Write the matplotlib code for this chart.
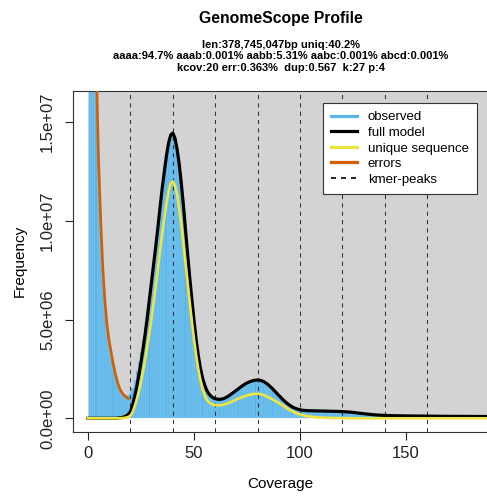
import numpy as np
import matplotlib
matplotlib.use('Agg')
import matplotlib.pyplot as plt
import matplotlib.patches as patches
from matplotlib.lines import Line2D

plt.rcParams['font.family'] = ['Liberation Sans', 'DejaVu Sans']

# DATA (frequencies in millions of k-mers)
# ------------------------------------------

title = 'GenomeScope Profile'
subtitle = ['len:378,745,047bp uniq:40.2%',
            'aaaa:94.7% aaab:0.001% aabb:5.31% aabc:0.001% abcd:0.001%',
            'kcov:20 err:0.363%  dup:0.567  k:27 p:4']

# observed histogram, coverage 1..190
hist_cov = list(range(1, 191))
observed = [150, 55, 28, 18, 13.3, 10.2, 7.8, 6.1, 4.9, 4.0,
            3.35, 2.75, 2.25, 1.85, 1.55, 1.35, 1.25, 1.2, 1.2, 1.3,
            1.55, 1.95, 2.4, 2.85, 3.35, 3.95, 4.6, 5.4, 6.2, 7.05,
            7.9, 8.8, 9.7, 10.7, 11.6, 12.45, 13.25, 13.9, 14.3, 14.4,
            14.15, 13.6, 12.85, 11.85, 10.75, 9.5, 8.25, 7.05, 5.95, 4.9,
            3.95, 3.15, 2.5, 2.0, 1.65, 1.38, 1.2, 1.08, 1.0, 0.95,
            0.93, 0.92, 0.93, 0.96, 1.01, 1.07, 1.14, 1.22, 1.3, 1.38,
            1.46, 1.54, 1.62, 1.69, 1.75, 1.8, 1.84, 1.87, 1.89, 1.9,
            1.89, 1.86, 1.81, 1.74, 1.66, 1.56, 1.46, 1.35, 1.24, 1.13,
            1.02, 0.92, 0.82, 0.73, 0.65, 0.58, 0.53, 0.49, 0.45, 0.42,
            0.40, 0.39, 0.38, 0.375, 0.37, 0.37, 0.365, 0.365, 0.36, 0.36,
            0.355, 0.355, 0.35, 0.35, 0.345, 0.345, 0.34, 0.335, 0.33, 0.325,
            0.315, 0.31, 0.30, 0.29, 0.28, 0.27, 0.255, 0.245, 0.23, 0.22,
            0.21, 0.20, 0.19, 0.18, 0.17, 0.16, 0.155, 0.15, 0.145, 0.14,
            0.138, 0.135, 0.133, 0.13, 0.128, 0.126, 0.124, 0.122, 0.12, 0.118,
            0.117, 0.116, 0.115, 0.114, 0.113, 0.112, 0.111, 0.11, 0.109, 0.108,
            0.107, 0.106, 0.105, 0.104, 0.103, 0.102, 0.101, 0.1, 0.099, 0.098,
            0.097, 0.096, 0.095, 0.094, 0.093, 0.092, 0.091, 0.09, 0.09, 0.089,
            0.088, 0.088, 0.087, 0.086, 0.086, 0.085, 0.085, 0.084, 0.084, 0.083]

# model curves: every coverage 0..103, then every 4th up to 188
model_cov = list(range(0, 104)) + list(range(104, 189, 4))
full_model = [0, 0, 0, 0, 0, 0, 0, 0, 0, 0,
              0, 0, 0, 0, 0.01, 0.02, 0.04, 0.07, 0.12, 0.2,
              0.33, 0.65, 1.1, 1.6, 2.2, 2.85, 3.55, 4.3, 5.15, 6.05,
              6.95, 7.85, 8.75, 9.7, 10.7, 11.65, 12.5, 13.3, 13.95, 14.35,
              14.45, 14.2, 13.65, 12.9, 11.9, 10.8, 9.55, 8.3, 7.1, 6.0,
              4.95, 4.0, 3.2, 2.55, 2.05, 1.7, 1.42, 1.24, 1.12, 1.04,
              0.99, 0.97, 0.96, 0.97, 1.0, 1.05, 1.11, 1.18, 1.26, 1.34,
              1.42, 1.5, 1.58, 1.66, 1.73, 1.79, 1.84, 1.88, 1.91, 1.93,
              1.94, 1.93, 1.9, 1.85, 1.78, 1.7, 1.6, 1.5, 1.39, 1.27,
              1.16, 1.05, 0.94, 0.84, 0.75, 0.67, 0.6, 0.54, 0.5, 0.46,
              0.43, 0.41, 0.4, 0.39,
              0.385, 0.375, 0.365, 0.355, 0.34, 0.31, 0.26, 0.21, 0.17, 0.145,
              0.132, 0.124, 0.118, 0.113, 0.11, 0.105, 0.1, 0.098, 0.096, 0.094,
              0.092, 0.09]
unique_seq = [0, 0, 0, 0, 0, 0, 0, 0, 0, 0,
              0, 0, 0, 0, 0, 0, 0.01, 0.02, 0.04, 0.07,
              0.13, 0.3, 0.6, 0.95, 1.35, 1.85, 2.4, 3.0, 3.65, 4.35,
              5.1, 5.9, 6.75, 7.6, 8.5, 9.35, 10.15, 10.9, 11.5, 11.9,
              12.0, 11.8, 11.35, 10.65, 9.8, 8.85, 7.85, 6.85, 5.85, 4.9,
              4.0, 3.2, 2.5, 1.95, 1.5, 1.17, 0.95, 0.82, 0.74, 0.69,
              0.67, 0.66, 0.66, 0.67, 0.69, 0.72, 0.76, 0.8, 0.85, 0.9,
              0.95, 1.0, 1.04, 1.08, 1.12, 1.16, 1.19, 1.21, 1.23, 1.24,
              1.24, 1.23, 1.21, 1.17, 1.12, 1.07, 1.02, 0.96, 0.9, 0.84,
              0.78, 0.71, 0.64, 0.57, 0.5, 0.43, 0.37, 0.32, 0.27, 0.23,
              0.2, 0.17, 0.14, 0.12,
              0.1, 0.05, 0.03, 0.015, 0.008, 0.004, 0.002, 0, 0, 0,
              0, 0, 0, 0, 0, 0, 0, 0, 0, 0,
              0, 0]

# error k-mers, coverage 1..19
error_cov = list(range(1, 20))
errors = [120, 50, 26, 17.5, 13, 10, 7.6, 5.9, 4.7, 3.9,
          3.3, 2.7, 2.2, 1.8, 1.5, 1.3, 1.17, 1.07, 1.0]

kmer_peaks = [20, 40, 60, 80, 100, 120, 140, 160]

x_ticks = [0, 50, 100, 150]
y_ticks = [0, 5e6, 1e7, 1.5e7]
y_ticklabels = ['0.0e+00', '5.0e+06', '1.0e+07', '1.5e+07']

COLOR_HIST = '#56B4E9'
COLOR_MODEL = 'black'
COLOR_UNIQUE = '#F0E442'
COLOR_ERRORS = '#D55E00'
COLOR_BG = '#D3D3D3'

# PLOT
# ------------------------------------------

W, H = 487, 496
fig = plt.figure(figsize=(W / 100, H / 100), dpi=100)
left, right, top, bottom = 72.7, 487, 90.7, 431.7
ax = fig.add_axes([left / W, 1 - bottom / H, (right - left) / W, (bottom - top) / H])

scale = 1e6
ax.add_patch(patches.Rectangle((0, 0), 1000, 1e9, color=COLOR_BG, lw=0, zorder=0))

ax.bar(hist_cov, np.array(observed) * scale, width=1.0, color=COLOR_HIST,
       edgecolor='#a6d8f3', linewidth=0.25, zorder=1)

for p in kmer_peaks:
    ax.axvline(p, color='#333333', lw=0.75, dashes=(4, 4), zorder=2)

ax.plot(model_cov, np.array(full_model) * scale, color=COLOR_MODEL, lw=2.3, zorder=3)
ax.plot(model_cov, np.array(unique_seq) * scale, color=COLOR_UNIQUE, lw=1.9, zorder=4)
ax.plot(error_cov, np.array(errors) * scale, color=COLOR_ERRORS, lw=1.9, zorder=4)

ax.set_xlim(-7.22, 188.2)
ax.set_ylim(-6.79e5, 1.6596e7)

ax.set_xticks(x_ticks)
ax.set_yticks(y_ticks)
ax.set_yticklabels(y_ticklabels, rotation=90, va='center')
ax.tick_params(axis='both', direction='out', length=5.6, width=0.8,
               labelsize=12, colors='#222222')
ax.tick_params(axis='x', pad=5)
ax.tick_params(axis='y', pad=7)
ax.spines['right'].set_visible(False)
for s in ['left', 'top', 'bottom']:
    ax.spines[s].set_linewidth(0.8)
    ax.spines[s].set_color('#333333')

fig.text(280 / W, 1 - 484 / H, 'Coverage', ha='center', va='center', fontsize=11)
fig.text(20 / W, 1 - 261 / H, 'Frequency', ha='center', va='center',
         rotation=90, fontsize=11)

fig.text(281 / W, 1 - 18.3 / H, title, ha='center', va='center',
         fontsize=11.3, fontweight='bold')
for i, line in enumerate(subtitle):
    fig.text(281 / W, 1 - (45 + 11.4 * i) / H, line, ha='center', va='center',
             fontsize=8.0, fontweight='bold')

handles = [Line2D([], [], color=COLOR_HIST, lw=2.3),
           Line2D([], [], color=COLOR_MODEL, lw=2.3),
           Line2D([], [], color=COLOR_UNIQUE, lw=2.3),
           Line2D([], [], color=COLOR_ERRORS, lw=2.3),
           Line2D([], [], color='black', lw=1.2, dashes=(3, 3))]
labels = ['observed', 'full model', 'unique sequence', 'errors', 'kmer-peaks']
leg = ax.legend(handles, labels, loc='upper right', bbox_to_anchor=(0.975, 0.963),
                borderaxespad=0, fontsize=9.5, frameon=True, fancybox=False,
                framealpha=1, edgecolor='#333333', handlelength=2.0,
                handletextpad=0.8, labelspacing=0.25, borderpad=0.6)
leg.get_frame().set_linewidth(0.8)
leg.set_zorder(10)

fig.savefig('out.png', dpi=100)
